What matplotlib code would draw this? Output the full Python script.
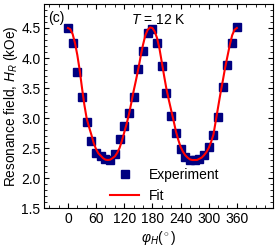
import matplotlib
matplotlib.use("Agg")
import matplotlib.pyplot as plt
from matplotlib.ticker import MultipleLocator

plt.rcParams['font.family'] = ['Liberation Sans', 'DejaVu Sans']
plt.rcParams['font.size'] = 10
plt.rcParams['mathtext.fontset'] = 'custom'
plt.rcParams['mathtext.rm'] = 'Liberation Sans'
plt.rcParams['mathtext.it'] = 'Liberation Sans:italic'

# measured points (angle in degrees, field in kOe)
phi_exp = [0, 10, 20, 30, 40, 50, 60, 70, 80, 90, 100, 110, 120,
           130, 140, 150, 160, 170, 180, 190, 200, 210, 220, 230, 240,
           250, 260, 270, 280, 290, 300, 310, 320, 330, 340, 350, 360]
h_exp = [4.50, 4.245, 3.77, 3.355, 2.93, 2.61, 2.41, 2.36, 2.31, 2.30, 2.40, 2.645, 2.86,
         3.08, 3.355, 3.81, 4.12, 4.41, 4.49, 4.255, 3.87, 3.42, 3.03, 2.75, 2.49,
         2.355, 2.30, 2.30, 2.32, 2.38, 2.52, 2.72, 3.02, 3.51, 3.88, 4.245, 4.51]

# fit curve
phi_fit = list(range(0, 365, 5))
h_fit = [4.50, 4.48, 4.40, 4.25, 4.05, 3.80, 3.50, 3.22, 2.99, 2.85, 2.72, 2.58,
         2.48, 2.41, 2.37, 2.33, 2.305, 2.30, 2.305, 2.33, 2.36, 2.42, 2.50, 2.62,
         2.76, 2.90, 3.06, 3.25, 3.45, 3.63, 3.82, 4.03, 4.22, 4.38, 4.47, 4.51,
         4.50, 4.44, 4.33, 4.16, 3.93, 3.70, 3.48, 3.30, 3.13, 2.96, 2.78, 2.64,
         2.52, 2.44, 2.38, 2.34, 2.31, 2.30, 2.30, 2.30, 2.32, 2.34, 2.38, 2.43,
         2.50, 2.60, 2.72, 2.95, 3.18, 3.41, 3.62, 3.84, 4.03, 4.22, 4.38, 4.47, 4.50]

fig = plt.figure(figsize=(2.77, 2.47), dpi=100)
ax = fig.add_axes([44 / 277, 39 / 247, 229 / 277, 204 / 247])

ax.plot(phi_exp, h_exp, 's', color='#000080', markersize=5.2, label='Experiment', zorder=2)
ax.plot(phi_fit, h_fit, '-', color='red', lw=1.5, label='Fit', zorder=3)

ax.set_xlim(-51, 437)
ax.set_ylim(1.5, 4.9)
ax.xaxis.set_major_locator(MultipleLocator(60))
ax.xaxis.set_minor_locator(MultipleLocator(20))
ax.yaxis.set_major_locator(MultipleLocator(0.5))
ax.yaxis.set_minor_locator(MultipleLocator(0.1))
ax.set_xticks([0, 60, 120, 180, 240, 300, 360])
ax.tick_params(which='both', direction='in', top=True, right=True, pad=3)
ax.tick_params(which='major', length=3.5, width=0.8)
ax.tick_params(which='minor', length=2, width=0.6)
ax.tick_params(axis='y', pad=2.5)

ax.set_ylabel('Resonance field, $H_R$ (kOe)', labelpad=1, fontsize=9.8)
ax.set_xlabel(r'$\varphi_H(^\circ)$', labelpad=2)

ax.text(0.02, 0.965, '(c)', transform=ax.transAxes, ha='left', va='top')
ax.text(0.5, 0.955, '$T$ = 12 K', transform=ax.transAxes, ha='center', va='top')

ax.legend(loc='upper left', bbox_to_anchor=(0.288, 0.195), frameon=False,
          borderpad=0, borderaxespad=0, handlelength=2.1, handletextpad=0.7,
          labelspacing=0.5, numpoints=1)

fig.savefig('out.png', dpi=100)
